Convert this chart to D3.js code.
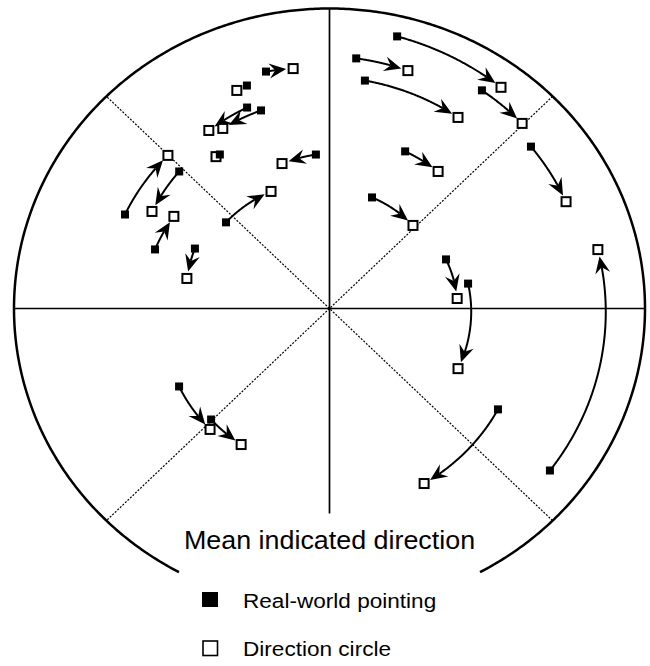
<!DOCTYPE html>
<html>
<head>
<meta charset="utf-8">
<script src="https://cdn.jsdelivr.net/npm/d3@7/dist/d3.min.js"></script>
<style>
  html, body { margin: 0; padding: 0; background: #fff; }
  svg { display: block; }
  text { font-family: Arial, "Liberation Sans", Helvetica, sans-serif; fill: #000; }
</style>
</head>
<body>
<script>
// ---- Data (angles in degrees, clockwise from "up"; distances as fraction of outer circle) ----
const realAngle   = [345.7, 340.6, 338.7, 341.8, 325.9, 355.2, 313.8, 295.8, 289.6, 295.1, 311.2,
                     13.3, 5.8, 8.4, 33.6, 49.8, 24.6, 20.0, 66.1, 79.3, 127.7, 241.4, 225.4, 122.2];
const realDist    = [0.815, 0.788, 0.719, 0.695, 0.620, 0.515, 0.660, 0.720, 0.587, 0.471, 0.436,
                     0.932, 0.838, 0.768, 0.873, 0.836, 0.576, 0.394, 0.404, 0.447, 0.883, 0.543, 0.527, 0.631];
const circleAngle = [351.8, 338.0, 327.2, 330.6, 324.6, 342.7, 299.9, 314.9, 301.9, 282.5, 334.6,
                     36.4, 17.4, 32.6, 44.7, 64.6, 37.0, 43.7, 85.3, 116.2, 77.0, 223.2, 211.7, 152.8];
const circleDist  = [0.808, 0.784, 0.706, 0.689, 0.621, 0.506, 0.649, 0.723, 0.581, 0.463, 0.432,
                     0.916, 0.831, 0.756, 0.868, 0.830, 0.572, 0.383, 0.406, 0.454, 0.873, 0.553, 0.533, 0.656];

const dividerAngles = [45, 135];             // dotted diagonals (each drawn through the centre)
const outlineGap = [151.5, 208.5];           // outer circle is open at the bottom between these angles
const verticalStop = 0.683;                  // lower end of the vertical axis
const titleText = "Mean indicated direction";
const legendLabels = ["Real-world pointing", "Direction circle"];

// ---- Layout ----
const W = 650, H = 666;
const cx = 329.5, cy = 308.5, rx = 315.5, ry = 300;

const svg = d3.select("body").append("svg").attr("width", W).attr("height", H);

const x = d3.scaleLinear().domain([-1, 1]).range([cx - rx, cx + rx]);
const y = d3.scaleLinear().domain([-1, 1]).range([cy + ry, cy - ry]);
const rad = d => d * Math.PI / 180;
const px = (a, r) => [x(r * Math.sin(rad(a))), y(r * Math.cos(rad(a)))];
const line = d3.line();

// outer circle (open at bottom)
const outlinePts = d3.range(outlineGap[1], outlineGap[0] + 360 + 0.001, 0.5).map(a => px(a, 1));
svg.append("path").attr("d", line(outlinePts))
  .attr("fill", "none").attr("stroke", "#000").attr("stroke-width", 2.5);

// dotted diagonals
dividerAngles.forEach(a => {
  svg.append("path").attr("d", line([px(a, 1), px(a + 180, 1)]))
    .attr("fill", "none").attr("stroke", "#000").attr("stroke-width", 1.2)
    .attr("stroke-dasharray", "2,1.5");
});

// solid axes
svg.append("path").attr("d", line([px(270, 1), px(90, 1)]))
  .attr("stroke", "#000").attr("stroke-width", 1.7).attr("fill", "none");
svg.append("path").attr("d", line([px(0, 1), px(180, verticalStop)]))
  .attr("stroke", "#000").attr("stroke-width", 1.7).attr("fill", "none");

// arrows (arcs about the centre from pointing direction to direction-circle answer)
const startTrim = 2, tipGap = 7;
const headL = 17, headW = 7.5, notch = 6;
const arrows = svg.append("g");
realAngle.forEach((a1, i) => {
  const a2 = circleAngle[i];
  const delta = ((a2 - a1 + 540) % 360) - 180;
  const n = 120;
  const pts = d3.range(n + 1).map(k => {
    const t = k / n;
    return px(a1 + delta * t, realDist[i] + (circleDist[i] - realDist[i]) * t);
  });
  const cum = [0];
  for (let k = 1; k < pts.length; k++) {
    cum.push(cum[k - 1] + Math.hypot(pts[k][0] - pts[k - 1][0], pts[k][1] - pts[k - 1][1]));
  }
  const total = cum[cum.length - 1];
  if (total < 16) return;
  const at = L => { // point at arc length L
    let k = d3.bisectLeft(cum, L);
    k = Math.max(1, Math.min(cum.length - 1, k));
    const t = (L - cum[k - 1]) / (cum[k] - cum[k - 1] || 1);
    return [pts[k - 1][0] + (pts[k][0] - pts[k - 1][0]) * t, pts[k - 1][1] + (pts[k][1] - pts[k - 1][1]) * t];
  };
  const tipL = total - tipGap;
  const tip = at(tipL);
  const back = at(Math.max(0, tipL - headL));
  const lineEnd = tipL - headL + notch;
  const kept = pts.filter((p, k) => cum[k] >= startTrim && cum[k] <= lineEnd);
  kept.push(at(lineEnd));
  arrows.append("path").attr("d", line(kept))
    .attr("fill", "none").attr("stroke", "#000").attr("stroke-width", 2);
  // arrowhead oriented along chord from head base to tip (follows the curve)
  const ang = Math.atan2(tip[1] - back[1], tip[0] - back[0]) * 180 / Math.PI;
  arrows.append("path")
    .attr("transform", `translate(${tip[0]},${tip[1]}) rotate(${ang})`)
    .attr("d", `M0,0 L${-headL},${-headW} L${-headL + notch},0 L${-headL},${headW} Z`)
    .attr("fill", "#000");
});

// direction-circle squares (open)
const openS = 9;
svg.append("g").selectAll("rect").data(circleAngle).join("rect")
  .attr("x", (a, i) => px(a, circleDist[i])[0] - openS / 2)
  .attr("y", (a, i) => px(a, circleDist[i])[1] - openS / 2)
  .attr("width", openS).attr("height", openS)
  .attr("fill", "#fff").attr("stroke", "#000").attr("stroke-width", 2);

// real-world pointing squares (filled)
const fillS = 8;
svg.append("g").selectAll("rect").data(realAngle).join("rect")
  .attr("x", (a, i) => px(a, realDist[i])[0] - fillS / 2)
  .attr("y", (a, i) => px(a, realDist[i])[1] - fillS / 2)
  .attr("width", fillS).attr("height", fillS)
  .attr("fill", "#000");

// title
svg.append("text")
  .attr("transform", `translate(${cx},549) scale(1.075,1)`)
  .attr("text-anchor", "middle")
  .attr("font-size", 25)
  .text(titleText);

// legend
const lg = svg.append("g");
lg.append("rect").attr("x", 202).attr("y", 592).attr("width", 16).attr("height", 15).attr("fill", "#000");
lg.append("rect").attr("x", 203).attr("y", 641).attr("width", 14.5).attr("height", 14.5)
  .attr("fill", "#fff").attr("stroke", "#000").attr("stroke-width", 1.6);
lg.append("text").attr("transform", "translate(243,607.5) scale(1.075,1)")
  .attr("font-size", 21).text(legendLabels[0]);
lg.append("text").attr("transform", "translate(243,656) scale(1.075,1)")
  .attr("font-size", 21).text(legendLabels[1]);
</script>
</body>
</html>
